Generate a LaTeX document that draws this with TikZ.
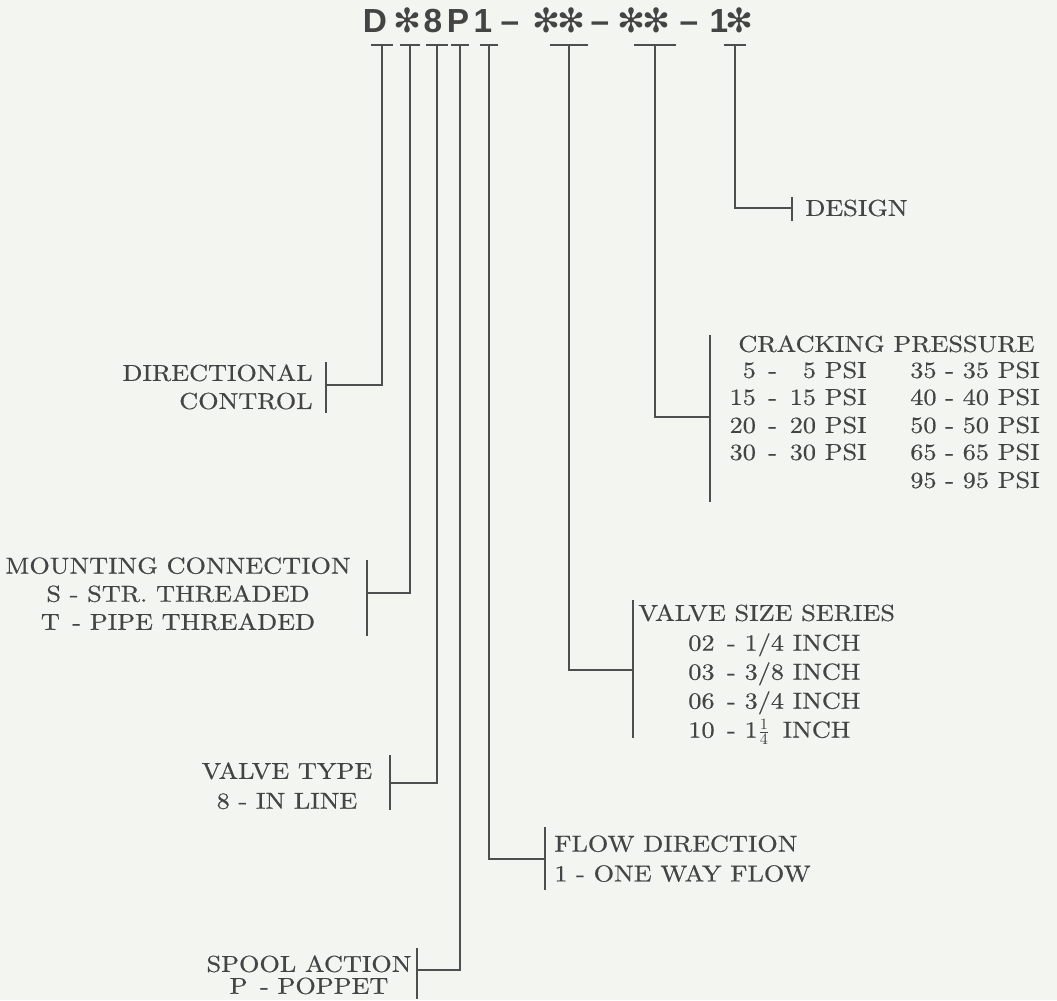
\documentclass[tikz,border=0pt]{standalone}
\usepackage{fontspec}
\setmainfont{lmroman10-regular.otf}[FakeStretch=1.14,FakeBold=0.6]
\newfontfamily\codefont{Liberation Sans}
\newfontfamily\symfont{DejaVu Sans}
\definecolor{InkClr}{RGB}{68,68,68}
\definecolor{LineClr}{RGB}{78,78,78}
\definecolor{PaperClr}{RGB}{243,245,241}
\newcommand{\st}{{\symfont\char"273B}}

\begin{document}
\begin{tikzpicture}[x=0.02cm,y=-0.02cm,
  codechar/.style={font=\codefont\bfseries\fontsize{19}{20}\selectfont,text=InkClr,inner sep=0pt,anchor=base},
  lbl/.style={font=\fontsize{13.1}{16}\selectfont,text=InkClr,inner sep=0pt},
  wire/.style={draw=LineClr,line width=0.9pt}]
\fill[PaperClr] (0,0) rectangle (1057,1000);
\useasboundingbox (0,0) rectangle (1057,1000);

% model code
\foreach \c/\x [count=\i] in {D/375,\st/407,8/433,P/458,1/483,\textendash/510,\st/546,\st/571,\textendash/600,\st/631,\st/656,\textendash/689,1/719,\st/739}
  \node[codechar] (c\i) at (\x,33) {\c};

% branches: number/x/half bar/corner y/label bar x/bar top/bar bottom
\foreach \n/\x/\w/\y/\bx/\ba/\bb in {1/382/11/385/326/362/413,2/410/10/593/367/560/636,3/437/11/783/390/755/810,4/460/9/970/417/948/999,5/489/9/859/545/827/890,6/569/19/670/633/600/738,7/655/21/417/710/335/502,8/735/11/208/792/197/221}{
  \coordinate (t\n) at (\x,45);
  \coordinate (k\n) at (\bx,\y);
  \draw[wire] (\x-\w,45) -- (\x+\w,45);
  \draw[wire] (t\n) |- (k\n);
  \draw[wire] (\bx,\ba) -- (\bx,\bb);
}

% left labels
\node[lbl,anchor=north east,align=right] (dir) at (313,364) {DIRECTIONAL\\CONTROL};
\node[lbl,anchor=north,align=center] (mount) at (178,557) {MOUNTING CONNECTION\\S - STR.\ THREADED\\T \,- PIPE THREADED};
\node[lbl,anchor=north,align=center,font=\fontsize{13.1}{17}\selectfont] (vtype) at (287,762) {VALVE TYPE\\8 - IN LINE};
\node[lbl,anchor=north,align=center,font=\fontsize{13.1}{12.5}\selectfont] (spool) at (309,955) {SPOOL ACTION\\P \,- POPPET};

% right labels
\node[lbl,anchor=north west,align=left,font=\fontsize{13.1}{17}\selectfont] (flow) at (554,835) {FLOW DIRECTION\\1 - ONE WAY FLOW};
\node[lbl,anchor=north west] (vsize) at (638,604) {VALVE SIZE SERIES};
\node[lbl,anchor=north west,align=left,font=\fontsize{13.1}{16.5}\selectfont] (sizes) at (688,633) {02 \,- 1/4 INCH\\03 \,- 3/8 INCH\\06 \,- 3/4 INCH\\10 \,- 1\smash{$\frac{1}{4}$} \,INCH};
\node[lbl,anchor=north west] (crack) at (738,335) {CRACKING PRESSURE};
\foreach \a/\b/\y [count=\i] in {{\phantom{1}5 \,- \,\phantom{1}5 PSI}/{35 - 35 PSI}/370,{15 \,- \,15 PSI}/{40 - 40 PSI}/397,{20 \,- \,20 PSI}/{50 - 50 PSI}/425,{30 \,- \,30 PSI}/{65 - 65 PSI}/452,{}/{95 - 95 PSI}/480}{
  \node[lbl,anchor=east] (pl\i) at (867,\y) {\a};
  \node[lbl,anchor=east] (pr\i) at (1040,\y) {\b};
}
\node[lbl,anchor=west] (design) at (805,208) {DESIGN};

\end{tikzpicture}
\end{document}
